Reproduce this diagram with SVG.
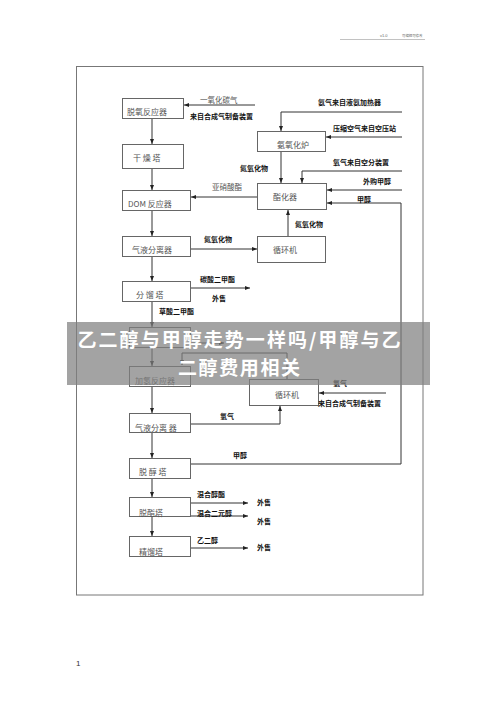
<svg xmlns="http://www.w3.org/2000/svg" width="500" height="708" viewBox="0 0 500 708">
<style>
.box{fill:#fff;stroke:#666;stroke-width:1}
.bl{font-family:"Noto Sans CJK SC","Liberation Serif",serif;font-size:8px;fill:#555}
.lb{font-family:"Noto Sans CJK SC","Liberation Sans",sans-serif;font-size:7px;font-weight:bold;fill:#111}
.lr{font-family:"Noto Sans CJK SC","Liberation Sans",sans-serif;font-size:7.5px;fill:#555}
.ln{fill:none;stroke:#333;stroke-width:1}
.fr{fill:none;stroke:#777;stroke-width:1}
.ov{font-family:"Noto Sans CJK SC","Liberation Sans",sans-serif;font-size:19px;font-weight:bold;fill:#fff}
</style>
<defs>
<marker id="ah" viewBox="0 0 10 10" refX="10" refY="5" markerWidth="5" markerHeight="5" orient="auto" markerUnits="userSpaceOnUse">
<path d="M0,1 L10,5 L0,9 z" fill="#222"/>
</marker>
</defs>
<rect width="500" height="708" fill="#fff"/>
<g id="header">
<line x1="340" y1="39.5" x2="425" y2="39.5" stroke="#999" stroke-width="0.6"/>
<text x="380" y="37" font-family="Liberation Sans,sans-serif" font-size="4" fill="#666">v1.0</text>
<text x="402" y="37" font-family="Noto Sans CJK SC,sans-serif" font-size="3.4" fill="#666">可编辑可修改</text>
</g>
<rect class="fr" x="76.5" y="66.5" width="346.5" height="528.5"/>
<text x="76" y="666" font-family="Liberation Sans,sans-serif" font-size="8" fill="#333">1</text>

<g id="connectors">
<path class="ln" d="M255,105 H184" marker-end="url(#ah)"/>
<path class="ln" d="M152,118 V144" marker-end="url(#ah)"/>
<path class="ln" d="M152,168 V190" marker-end="url(#ah)"/>
<path class="ln" d="M152,210 V236" marker-end="url(#ah)"/>
<path class="ln" d="M152,256 V281" marker-end="url(#ah)"/>
<path class="ln" d="M152,301 V327" marker-end="url(#ah)"/>
<path class="ln" d="M152,347 V366" marker-end="url(#ah)"/>
<path class="ln" d="M152,386 V413" marker-end="url(#ah)"/>
<path class="ln" d="M152,432 V458" marker-end="url(#ah)"/>
<path class="ln" d="M152,478 V497" marker-end="url(#ah)"/>
<path class="ln" d="M152,516 V536" marker-end="url(#ah)"/>
<path class="ln" d="M402,112 H281 V131" marker-end="url(#ah)"/>
<path class="ln" d="M402,137 H326" marker-end="url(#ah)"/>
<path class="ln" d="M281,151 V183" marker-end="url(#ah)"/>
<path class="ln" d="M402,171 H302 V183" marker-end="url(#ah)"/>
<path class="ln" d="M402,190 H327" marker-end="url(#ah)"/>
<path class="ln" d="M190,464 H401 V203 H327" marker-end="url(#ah)"/>
<path class="ln" d="M257,197 H191" marker-end="url(#ah)"/>
<path class="ln" d="M190,249 H257" marker-end="url(#ah)"/>
<path class="ln" d="M288,236 V210" marker-end="url(#ah)"/>
<path class="ln" d="M190,288 H250" marker-end="url(#ah)"/>
<path class="ln" d="M190,343 H224" marker-end="url(#ah)"/>
<path class="ln" d="M287,379 V353 H182 V365" marker-end="url(#ah)"/>
<path class="ln" d="M190,424 H280 V406" marker-end="url(#ah)"/>
<path class="ln" d="M386,393 H319" marker-end="url(#ah)"/>
<path class="ln" d="M190,503 H248" marker-end="url(#ah)"/>
<path class="ln" d="M190,516 H248" marker-end="url(#ah)"/>
<path class="ln" d="M190,548 H248" marker-end="url(#ah)"/>
</g>

<g id="n_tuoyang"><rect class="box" x="122.5" y="98.5" width="61" height="20"/><text class="bl" x="127" y="115">脱氧反应器</text></g>
<g id="n_ganzao"><rect class="box" x="122.5" y="144.5" width="61" height="24"/><text class="bl" x="133" y="161">干 燥 塔</text></g>
<g id="n_dom"><rect class="box" x="122.5" y="190.5" width="68" height="20"/><text class="bl" x="128" y="207">DOM 反应器</text></g>
<g id="n_qiye1"><rect class="box" x="122.5" y="236.5" width="68" height="20"/><text class="bl" x="132" y="253">气液分离器</text></g>
<g id="n_fenliu"><rect class="box" x="122.5" y="281.5" width="68" height="20"/><text class="bl" x="136" y="298">分 馏 塔</text></g>
<g id="n_hidden"><rect class="box" x="129.5" y="327.5" width="61" height="20"/></g>
<g id="n_jiaqing"><rect class="box" x="129.5" y="366.5" width="61" height="20"/><text class="bl" x="135" y="384">加氢反应器</text></g>
<g id="n_qiye2"><rect class="box" x="129.5" y="413.5" width="61" height="19"/><text class="bl" x="135" y="431">气液分离 器</text></g>
<g id="n_tuochun"><rect class="box" x="129.5" y="458.5" width="61" height="20"/><text class="bl" x="139" y="475">脱 醇 塔</text></g>
<g id="n_tuozhi"><rect class="box" x="129.5" y="497.5" width="61" height="19"/><text class="bl" x="139" y="516">脱酯塔</text></g>
<g id="n_jingliu"><rect class="box" x="129.5" y="536.5" width="61" height="20"/><text class="bl" x="139" y="555">精馏塔</text></g>
<g id="n_anyang"><rect class="box" x="257.5" y="131.5" width="68" height="20"/><text class="bl" x="277" y="148">氨氧化炉</text></g>
<g id="n_zhihua"><rect class="box" x="257.5" y="183.5" width="69" height="26"/><text class="bl" x="273" y="200">酯化器</text></g>
<g id="n_xunhuan1"><rect class="box" x="257.5" y="236.5" width="68" height="26"/><text class="bl" x="273" y="253">循环机</text></g>
<g id="n_xunhuan2"><rect class="box" x="249.5" y="379.5" width="69" height="26"/><text class="bl" x="275" y="398">循环机</text></g>

<g id="labels">
<text class="lr" x="200" y="103">一氧化碳气</text>
<text class="lb" x="190" y="119">来自合成气制备装置</text>
<text class="lb" x="318" y="105">氨气来自液氨加热器</text>
<text class="lb" x="333" y="131">压缩空气来自空压站</text>
<text class="lb" x="240" y="171">氮氧化物</text>
<text class="lb" x="333" y="165">氧气来自空分装置</text>
<text class="lb" x="363" y="184">外购甲醇</text>
<text class="lb" x="357" y="202">甲醇</text>
<text class="lr" x="212" y="190">亚硝酸酯</text>
<text class="lb" x="204" y="242">氮氧化物</text>
<text class="lb" x="295" y="227">氮氧化物</text>
<text class="lb" x="200" y="282">碳酸二甲酯</text>
<text class="lb" x="212" y="301">外售</text>
<text class="lb" x="159" y="314">草酸二甲酯</text>
<text class="lb" x="220" y="419">氢气</text>
<text class="lb" x="333" y="386">氢气</text>
<text class="lb" x="318" y="406">来自合成气制备装置</text>
<text class="lb" x="233" y="458">甲醇</text>
<text class="lb" x="197" y="497">混合醇酯</text>
<text class="lb" x="257" y="505">外售</text>
<text class="lb" x="197" y="516">混合二元醇</text>
<text class="lb" x="257" y="524">外售</text>
<text class="lb" x="197" y="543">乙二醇</text>
<text class="lb" x="257" y="550">外售</text>
</g>

<g id="overlay">
<rect x="67" y="322" width="363" height="63" fill="#808080" opacity="0.72"/>
<text class="ov" x="239" y="347" text-anchor="middle" textLength="323" lengthAdjust="spacing">乙二醇与甲醇走势一样吗/甲醇与乙</text>
<text class="ov" x="239" y="375" text-anchor="middle" textLength="122" lengthAdjust="spacing">二醇费用相关</text>
</g>
</svg>
